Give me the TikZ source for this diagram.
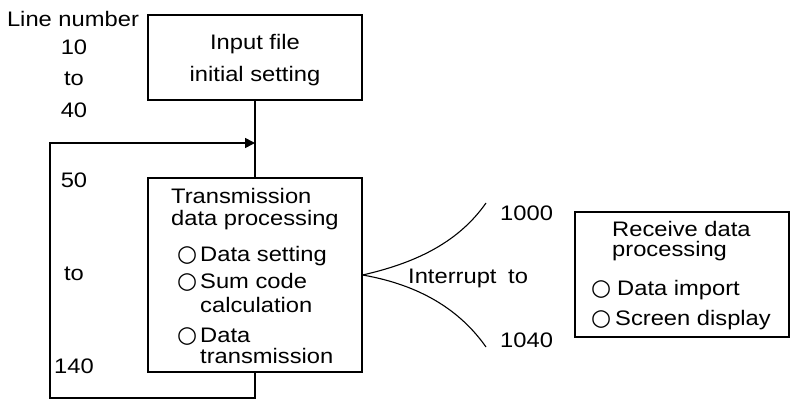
\documentclass[tikz,border=0pt]{standalone}
\usepackage{fontspec}
\setmainfont[FakeStretch=1.13]{Liberation Sans}
\newfontfamily\circfont{DejaVu Sans}
\usetikzlibrary{arrows.meta, positioning}

\newcommand\opencirc{{\circfont\fontsize{23}{23}\selectfont ○}}

\begin{document}
\begin{tikzpicture}[
      x=1pt, y=-1pt,
      font=\fontsize{21}{22}\selectfont,
      block/.style={rectangle, draw, line width=1.2pt, inner sep=0pt},
      label/.style={inner sep=0pt, anchor=base west},
      wire/.style={line width=1.6pt},
      branch/.style={line width=1.1pt}
    ]
    \useasboundingbox (0,0) rectangle (790,401);

    % boxes
    \node[block, minimum width=214pt, minimum height=85pt] (input) at (255,57.5) {};
    \node[block, minimum width=214pt, minimum height=194pt] (tx) at (255,275) {};
    \node[block, minimum width=214pt, minimum height=125pt] (rx) at (682,274.5) {};

    % line numbers
    \node[inner sep=0pt, anchor=base] (ln) at (73,27) {Line number};
    \node[inner sep=0pt, anchor=base] (l10) at (74,55) {10};
    \node[inner sep=0pt, anchor=base] (lto1) at (74,86) {to};
    \node[inner sep=0pt, anchor=base] (l40) at (74,118) {40};
    \node[inner sep=0pt, anchor=base] (l50) at (74,187) {50};
    \node[inner sep=0pt, anchor=base] (lto2) at (74,280) {to};
    \node[inner sep=0pt, anchor=base] (l140) at (74,373) {140};

    % input box text
    \node[inner sep=0pt, anchor=base] (in1) at (255,50) {Input file};
    \node[inner sep=0pt, anchor=base] (in2) at (255,82) {initial setting};

    % transmission box text
    \node[label] (tx1) at (171,203) {Transmission};
    \node[label] (tx2) at (171,225) {data processing};
    \node[label] (tx3) at (177,261) {\makebox[23pt][l]{\opencirc}Data setting};
    \node[label] (tx4) at (177,288) {\makebox[23pt][l]{\opencirc}Sum code};
    \node[label] (tx5) at (200,312) {calculation};
    \node[label] (tx6) at (177,342) {\makebox[23pt][l]{\opencirc}Data};
    \node[label] (tx7) at (200,363) {transmission};

    % interrupt
    \node[label] (irq) at (408,283) {Interrupt};
    \node[label] (irqto) at (508,283) {to};
    \node[label] (n1000) at (500,220) {1000};
    \node[label] (n1040) at (500,347) {1040};

    % receive box text
    \node[label] (rx1) at (612,236) {Receive data};
    \node[label] (rx2) at (612,256) {processing};
    \node[label] (rx3) at (591,295) {\makebox[26pt][l]{\opencirc}Data import};
    \node[label] (rx4) at (591,325) {\makebox[24pt][l]{\opencirc}Screen display};

    % connectors
    \coordinate (loopin) at (255,143);
    \coordinate (loopbl) at (50,398);
    \coordinate (up) at (486,203);
    \coordinate (lo) at (486,347);
    \draw[wire] (input.south) -- (tx.north);
    \draw[wire, -{Triangle[length=10pt, width=10pt]}] (tx.south) |- (loopbl) |- (loopin);
    \draw[branch] (tx.east) .. controls (420,262) and (460,240) .. (up);
    \draw[branch] (tx.east) .. controls (420,285) and (460,310) .. (lo);
  \end{tikzpicture}
\end{document}
